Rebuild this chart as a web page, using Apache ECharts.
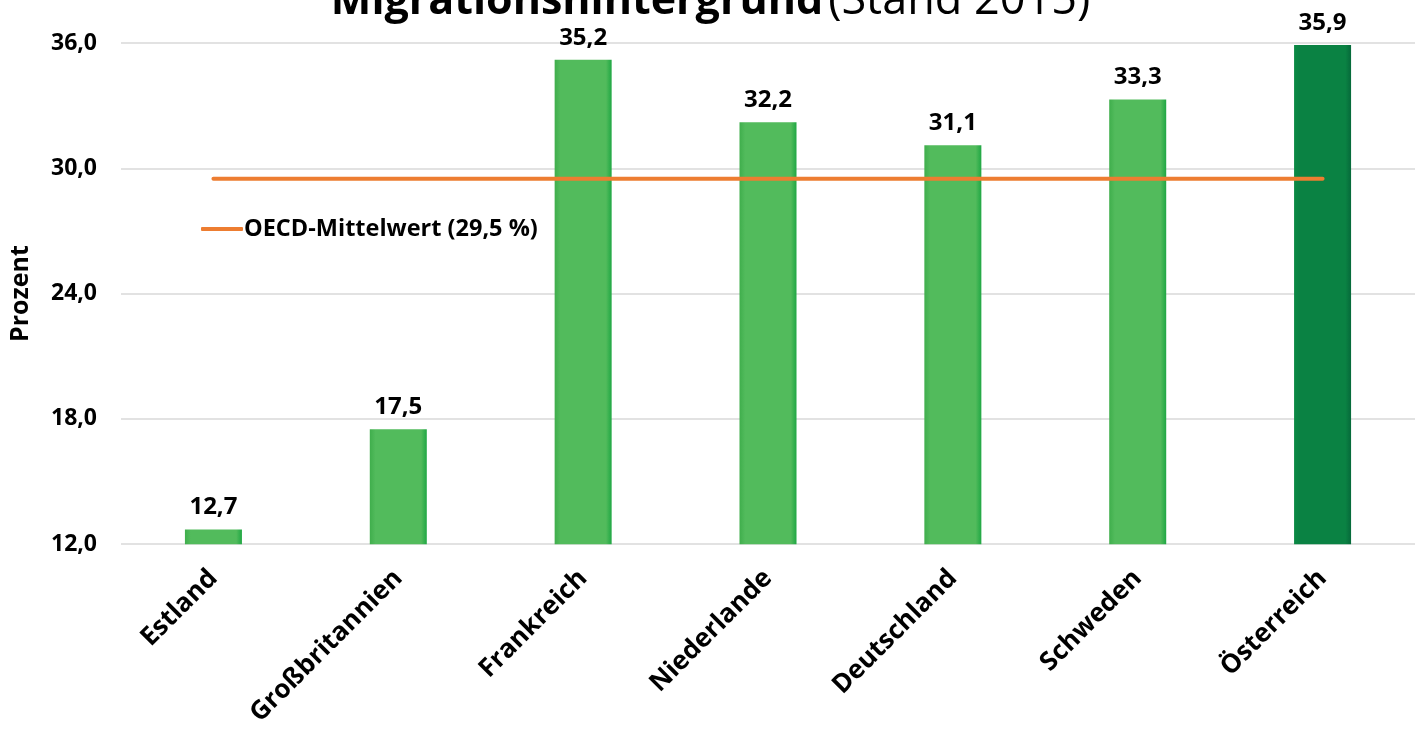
<!DOCTYPE html>
<html><head><meta charset="utf-8">
<script src="https://cdn.jsdelivr.net/npm/echarts@6/dist/echarts.min.js"></script>
<style>html,body{margin:0;padding:0;background:#fff}#c{width:1421px;height:729px}</style>
</head><body><div id="c"></div>
<script>
const categories = ['Estland','Großbritannien','Frankreich','Niederlande','Deutschland','Schweden','Österreich'];
const values = [12.7, 17.5, 35.2, 32.2, 31.1, 33.3, 35.9];
const oecdMean = [29.5, 29.5, 29.5, 29.5, 29.5, 29.5, 29.5];
const yTicks = [12, 18, 24, 30, 36];
const fmt = v => Number(v).toFixed(1).replace('.', ',');
const FONT = 'Open Sans';
const light = {type:'linear',x:0,y:0,x2:1,y2:0,colorStops:[{offset:0,color:'#3fae4c'},{offset:0.1,color:'#52bb5c'},{offset:0.9,color:'#52bb5c'},{offset:1,color:'#1fa743'}]};
const dark = {type:'linear',x:0,y:0,x2:1,y2:0,colorStops:[{offset:0,color:'#0a8a44'},{offset:0.1,color:'#0a8243'},{offset:0.9,color:'#0a8243'},{offset:1,color:'#06693a'}]};
const chart = echarts.init(document.getElementById('c'));
chart.setOption({
  animation:false,
  title:{
    text:'{b|Migrationshintergrund} {n|(Stand 2015)}',
    left:'center', top:-26,
    textStyle:{rich:{
      b:{fontFamily:FONT,fontWeight:'bold',fontSize:43,color:'#000'},
      n:{fontFamily:FONT,fontWeight:'normal',fontSize:45,color:'#000'}
    }}
  },
  legend:{
    data:[{name:'OECD-Mittelwert (29,5 %)'}],
    left:196, top:212, itemWidth:42, itemHeight:4, itemGap:4,
    icon:'roundRect',
    textStyle:{fontFamily:FONT,fontWeight:'bold',fontSize:23.5,color:'#000', padding:[0,0,0,-4]}
  },
  grid:{left:121, right:6, top:43, bottom:182, containLabel:false},
  xAxis:{
    type:'category', data:categories,
    axisLine:{show:false}, axisTick:{show:false},
    axisLabel:{rotate:45, interval:0, margin:30, fontFamily:FONT, fontWeight:'bold', fontSize:26, color:'#000'}
  },
  yAxis:{
    type:'value', min:12, max:36, interval:6,
    name:'Prozent', nameLocation:'middle', nameGap:88, nameRotate:90,
    nameTextStyle:{fontFamily:FONT,fontWeight:'bold',fontSize:25,color:'#000'},
    axisLine:{show:false}, axisTick:{show:false},
    axisLabel:{margin:24, fontFamily:FONT, fontWeight:'bold', fontSize:23, color:'#000', formatter:fmt},
    splitLine:{lineStyle:{color:'#d9d9d9', width:1.5}}
  },
  series:[
    {type:'bar', name:'Anteil', barWidth:57,
     data: values.map((v,i)=>({value:v, itemStyle:{color: i===values.length-1 ? dark : light}})),
     label:{show:true, position:'top', distance:10, fontFamily:FONT, fontWeight:'bold', fontSize:24, color:'#000', formatter:p=>fmt(p.value)}
    },
    {type:'line', name:'OECD-Mittelwert (29,5 %)', data:oecdMean, symbol:'none',
     lineStyle:{color:'#ED7D31', width:4, cap:'round'}, itemStyle:{color:'#ED7D31'}, z:5}
  ]
});
</script></body></html>
